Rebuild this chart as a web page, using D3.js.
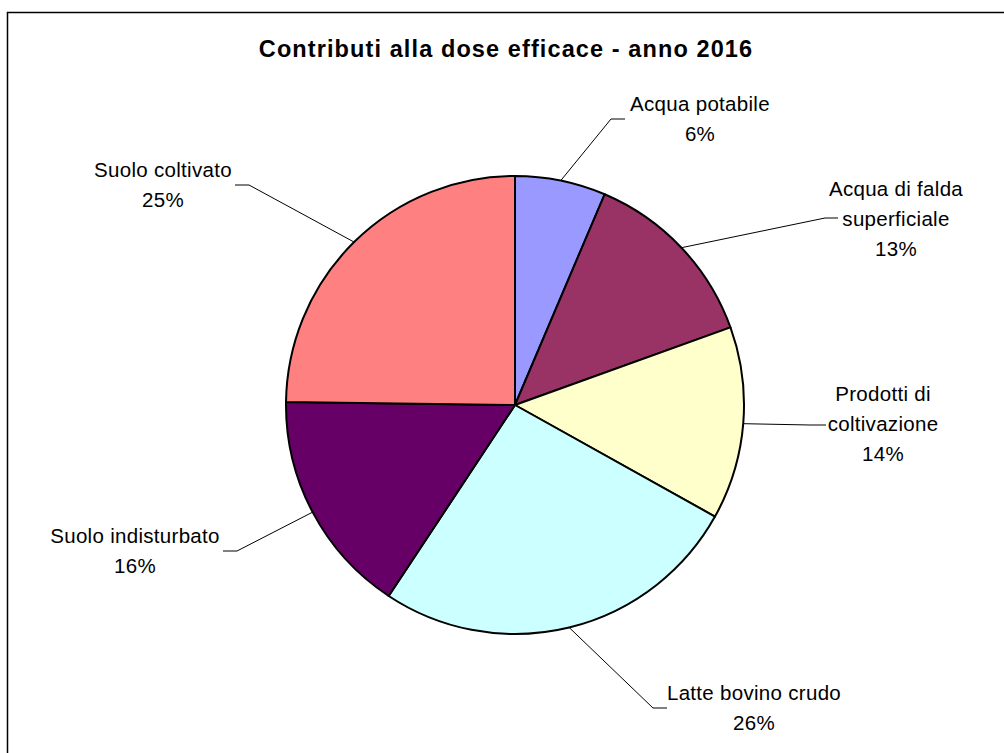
<!DOCTYPE html>
<html>
<head>
<meta charset="utf-8">
<script src="https://cdn.jsdelivr.net/npm/d3@7"></script>
<style>
  body { margin: 0; background: #fff; }
  text { font-family: "Liberation Sans", Arial, sans-serif; fill: #000; }
</style>
</head>
<body>
<script>
var width = 1004, height = 753;

// data
var categories = ["Acqua potabile", "Acqua di falda superficiale", "Prodotti di coltivazione",
                  "Latte bovino crudo", "Suolo indisturbato", "Suolo coltivato"];
var values = [6.4, 13.1, 13.6, 26.2, 15.9, 24.8];
var percentLabels = ["6%", "13%", "14%", "26%", "16%", "25%"];
var labelLines = [["Acqua potabile"], ["Acqua di falda", "superficiale"], ["Prodotti di", "coltivazione"],
                  ["Latte bovino crudo"], ["Suolo indisturbato"], ["Suolo coltivato"]];
var colors = ["#9999FF", "#993366", "#FFFFCC", "#CCFFFF", "#660066", "#FF8080"];

// layout of the labels (label centre x, first baseline y, leader elbow x, y, end x)
var labelLayout = [
  {x: 700, y: 111, ex: 611, ey: 119, hx: 625},
  {x: 896, y: 196, ex: 825, ey: 218, hx: 838},
  {x: 883, y: 401, ex: 810, ey: 425, hx: 826},
  {x: 754, y: 700, ex: 653, ey: 708, hx: 667},
  {x: 135, y: 543, ex: 237, ey: 551, hx: 223},
  {x: 163, y: 177, ex: 249, ey: 185, hx: 235}
];

var cx = 515, cy = 405, radius = 229;
var lineGap = 30;

var svg = d3.select("body")
  .append("svg")
    .attr("width", width)
    .attr("height", height);

// chart frame (cut by the window on right and bottom)
svg.append("rect")
  .attr("x", 7.5)
  .attr("y", 12.5)
  .attr("width", 1100)
  .attr("height", 900)
  .attr("fill", "none")
  .attr("stroke", "#000")
  .attr("stroke-width", 1.5);

// title
svg.append("text")
  .attr("x", 506)
  .attr("y", 57)
  .attr("text-anchor", "middle")
  .style("font-size", "23.5px")
  .style("font-weight", "bold")
  .style("letter-spacing", "1.1px")
  .text("Contributi alla dose efficace - anno 2016");

var pie = d3.pie().sort(null).value(function(d) { return d; });
var arcs = pie(values);

var arc = d3.arc().innerRadius(0).outerRadius(radius);

var g = svg.append("g")
  .attr("transform", "translate(" + cx + "," + cy + ")");

g.selectAll("path")
  .data(arcs)
  .enter()
  .append("path")
    .attr("d", arc)
    .attr("fill", function(d, i) { return colors[i]; })
    .attr("stroke", "#000")
    .attr("stroke-width", 2)
    .attr("stroke-linejoin", "round");

// leader lines, from the middle of each arc
var rim = d3.arc().innerRadius(radius).outerRadius(radius);
arcs.forEach(function(d, i) {
  var p = rim.centroid(d);
  var L = labelLayout[i];
  svg.append("polyline")
    .attr("points", [[cx + p[0], cy + p[1]], [L.ex, L.ey], [L.hx, L.ey]].map(function(q) { return q.join(","); }).join(" "))
    .attr("fill", "none")
    .attr("stroke", "#000")
    .attr("stroke-width", 1);

  var lines = labelLines[i].concat([percentLabels[i]]);
  var t = svg.append("text")
    .attr("text-anchor", "middle")
    .style("font-size", "20.5px")
    .style("letter-spacing", "0.3px");
  lines.forEach(function(s, k) {
    t.append("tspan")
      .attr("x", L.x)
      .attr("y", L.y + k * lineGap)
      .text(s);
  });
});
</script>
</body>
</html>
